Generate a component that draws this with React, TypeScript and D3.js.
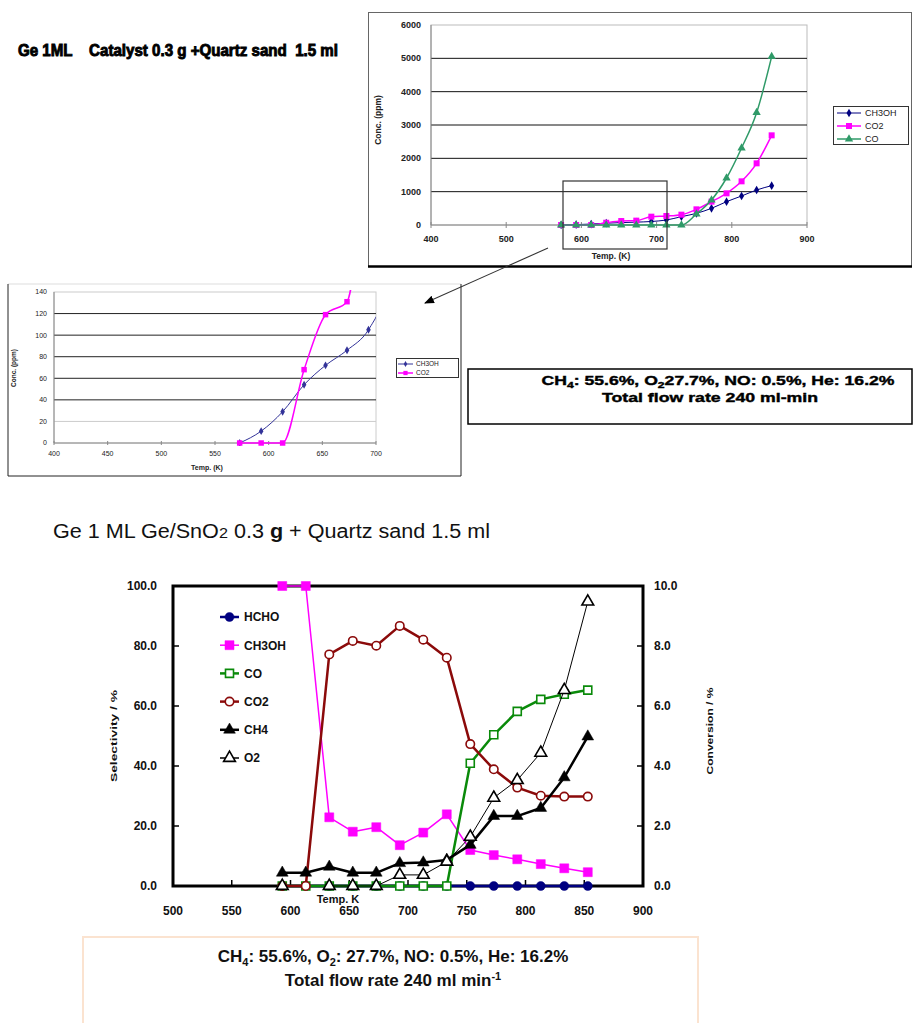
import React from 'react';
import * as d3 from 'd3';

const FONT = '"Liberation Sans", Arial, Helvetica, sans-serif';

// upper overview chart (ppm)
const topTemps = [573, 593, 613, 633, 653, 673, 693, 713, 733, 753, 773, 793, 813, 833, 853];
const topCH3OH = [0, 11, 29, 54, 72, 86, 105, 150, 250, 350, 500, 700, 870, 1050, 1180];
const topCO2 = [0, 0, 0, 68, 119, 131, 250, 270, 310, 470, 700, 950, 1310, 1850, 2690];
const topCO = [0, 0, 0, 0, 0, 0, 0, 0, 0, 330, 750, 1410, 2310, 3370, 5050];
const topXTicks = [400, 500, 600, 700, 800, 900];
const topYTicks = [0, 1000, 2000, 3000, 4000, 5000, 6000];

// zoomed inset
const insetXTicks = [400, 450, 500, 550, 600, 650, 700];
const insetYTicks = [0, 20, 40, 60, 80, 100, 120, 140];

// lower chart: selectivity (left) and conversion (right)
const temps = [593, 613, 633, 653, 673, 693, 713, 733, 753, 773, 793, 813, 833, 853];
const hcho = [0, 0, 0, 0, 0, 0, 0, 0, 0, 0, 0, 0, 0, 0];
const ch3oh = [100, 100, 22.9, 18.1, 19.6, 13.6, 17.8, 23.9, 12.0, 10.3, 8.9, 7.3, 5.9, 4.6];
const co = [0, 0, 0, 0, 0, 0, 0, 0, 40.9, 50.4, 58.2, 62.2, 63.9, 65.3];
const co2 = [0, 0, 77.2, 81.7, 80.1, 86.7, 82.1, 76.1, 47.3, 38.9, 32.8, 30.1, 29.8, 29.8];
const ch4 = [0.44, 0.44, 0.64, 0.44, 0.44, 0.76, 0.78, 0.87, 1.37, 2.33, 2.33, 2.6, 3.62, 4.98];
const o2 = [0, null, 0, 0, 0, 0.37, 0.37, 0.81, 1.64, 2.94, 3.53, 4.44, 6.53, 9.48];
const bottomXTicks = [500, 550, 600, 650, 700, 750, 800, 850, 900];
const leftTicks = [0, 20, 40, 60, 80, 100];
const rightTicks = [0, 2, 4, 6, 8, 10];

type Pt = [number, number | null];
const pair = (xs: number[], ys: (number | null)[]): Pt[] => xs.map((x, i) => [x, ys[i]]);

function Marker({ type, size, x, y, fill, stroke, sw = 1 }: any) {
  const d = d3.symbol().type(type).size(size)() as string;
  return <path d={d} transform={`translate(${x},${y})`} fill={fill} stroke={stroke} strokeWidth={sw} />;
}

function TopChart() {
  const x = d3.scaleLinear().domain([400, 900]).range([431, 807]);
  const y = d3.scaleLinear().domain([0, 6000]).range([225, 25]);
  const line = d3.line<Pt>().x(d => x(d[0])).y(d => y(d[1] as number)).curve(d3.curveMonotoneX);
  const series = [
    { name: 'CH3OH', vals: topCH3OH, color: '#000080', w: 1, type: d3.symbolDiamond, size: 22 },
    { name: 'CO2', vals: topCO2, color: '#ff00ff', w: 1.5, type: d3.symbolSquare, size: 36 },
    { name: 'CO', vals: topCO, color: '#2f9a68', w: 1.5, type: d3.symbolTriangle, size: 30 },
  ];
  return (
    <g fontFamily={FONT}>
      <rect x={368.5} y={12.5} width={543} height={254} fill="#fff" stroke="#666" strokeWidth={1} />
      <line x1={368} x2={912} y1={266.5} y2={266.5} stroke="#000" strokeWidth={2.5} />
      <rect x={431} y={25} width={376} height={200} fill="none" stroke="#bbb" />
      {topYTicks.filter(t => t > 0 && t < 6000).map(t => (
        <line key={t} x1={431} x2={807} y1={y(t)} y2={y(t)} stroke="#111" strokeWidth={1} />
      ))}
      <line x1={431} x2={431} y1={25} y2={225} stroke="#888" />
      <line x1={431} x2={807} y1={225} y2={225} stroke="#888" />
      {topXTicks.map(t => (
        <g key={t}>
          <line x1={x(t)} x2={x(t)} y1={222} y2={228} stroke="#888" />
          <text x={x(t)} y={242} textAnchor="middle" fontSize={9} fontWeight="bold" fill="#222">{t}</text>
        </g>
      ))}
      {topYTicks.map(t => (
        <text key={t} x={421} y={y(t)} dy="0.35em" textAnchor="end" fontSize={9} fontWeight="bold" fill="#222">{t}</text>
      ))}
      <text transform="translate(381,120) rotate(-90)" textAnchor="middle" fontSize={8.5} fontWeight="bold" fill="#222">Conc. (ppm)</text>
      <text x={611} y={259} textAnchor="middle" fontSize={8.5} fontWeight="bold" fill="#222">Temp. (K)</text>
      {series.map(s => (
        <g key={s.name}>
          <path d={line(pair(topTemps, s.vals)) as string} fill="none" stroke={s.color} strokeWidth={s.w} />
          {topTemps.map((t, i) => (
            <Marker key={t} type={s.type} size={s.size} x={x(t)} y={y(s.vals[i])} fill={s.color} stroke="none" />
          ))}
        </g>
      ))}
      <rect x={833.5} y={106.5} width={75} height={38} fill="#fff" stroke="#333" />
      {series.map((s, i) => (
        <g key={s.name}>
          <line x1={837} x2={861} y1={113 + i * 13} y2={113 + i * 13} stroke={s.color} strokeWidth={s.w} />
          <Marker type={s.type} size={s.size} x={849} y={113 + i * 13} fill={s.color} stroke="none" />
          <text x={865} y={113 + i * 13} dy="0.35em" fontSize={9} fill="#222">{s.name}</text>
        </g>
      ))}
      <rect x={563} y={181} width={104} height={68} fill="none" stroke="#333" strokeWidth={1.2} />
    </g>
  );
}

function Inset() {
  const x = d3.scaleLinear().domain([400, 700]).range([54, 376]);
  const y = d3.scaleLinear().domain([0, 140]).range([443, 292]);
  const line = d3.line<Pt>().x(d => x(d[0])).y(d => y(d[1] as number)).curve(d3.curveMonotoneX);
  const series = [
    { name: 'CH3OH', vals: topCH3OH, color: '#333399', w: 1, type: d3.symbolDiamond, size: 18 },
    { name: 'CO2', vals: topCO2, color: '#ff00ff', w: 1.5, type: d3.symbolSquare, size: 30 },
  ];
  return (
    <g fontFamily={FONT}>
      <line x1={8} x2={461} y1={284} y2={284} stroke="#ddd" />
      <line x1={8} x2={8} y1={284} y2={476} stroke="#222" />
      <line x1={461} x2={461} y1={284} y2={476} stroke="#222" />
      <line x1={8} x2={461} y1={476} y2={476} stroke="#222" />
      <rect x={54} y={292} width={322} height={151} fill="none" stroke="#ccc" />
      {insetYTicks.filter(t => t > 0 && t < 140).map(t => (
        <line key={t} x1={54} x2={376} y1={y(t)} y2={y(t)} stroke={t === 20 ? '#ccc' : '#222'} />
      ))}
      <line x1={54} x2={54} y1={292} y2={443} stroke="#888" />
      <line x1={54} x2={376} y1={443} y2={443} stroke="#888" />
      {insetXTicks.map(t => (
        <g key={t}>
          <line x1={x(t)} x2={x(t)} y1={441} y2={445} stroke="#888" />
          <text x={x(t)} y={456} textAnchor="middle" fontSize={7} fill="#222">{t}</text>
        </g>
      ))}
      {insetYTicks.map(t => (
        <text key={t} x={47} y={y(t)} dy="0.35em" textAnchor="end" fontSize={7} fill="#222">{t}</text>
      ))}
      <text transform="translate(16,368) rotate(-90)" textAnchor="middle" fontSize={6.5} fontWeight="bold" fill="#222">Conc. (ppm)</text>
      <text x={207} y={470} textAnchor="middle" fontSize={7} fontWeight="bold" fill="#222">Temp. (K)</text>
      <clipPath id="insetClip"><rect x={54} y={290} width={322} height={156} /></clipPath>
      <g clipPath="url(#insetClip)">
        {series.map(s => (
          <g key={s.name}>
            <path d={line(pair(topTemps, s.vals)) as string} fill="none" stroke={s.color} strokeWidth={s.w} />
            {topTemps.map((t, i) => (
              <Marker key={t} type={s.type} size={s.size} x={x(t)} y={y(s.vals[i])} fill={s.color} stroke="none" />
            ))}
          </g>
        ))}
      </g>
      <rect x={396.5} y={358.5} width={62} height={19} fill="#fff" stroke="#333" />
      {series.map((s, i) => (
        <g key={s.name}>
          <line x1={398} x2={413} y1={364 + i * 9} y2={364 + i * 9} stroke={s.color} strokeWidth={s.w} />
          <Marker type={s.type} size={s.size * 0.6} x={405.5} y={364 + i * 9} fill={s.color} stroke="none" />
          <text x={416} y={364 + i * 9} dy="0.35em" fontSize={6.5} fill="#222">{s.name}</text>
        </g>
      ))}
    </g>
  );
}

function BottomChart() {
  const x = d3.scaleLinear().domain([500, 900]).range([173, 643]);
  const yL = d3.scaleLinear().domain([0, 100]).range([886, 586]);
  const yR = d3.scaleLinear().domain([0, 10]).range([886, 586]);
  const series = [
    { name: 'HCHO', vals: hcho, y: yL, color: '#000080', w: 2.5, type: d3.symbolCircle, size: 64, open: false },
    { name: 'CH3OH', vals: ch3oh, y: yL, color: '#ff00ff', w: 1.5, type: d3.symbolSquare, size: 81, open: false },
    { name: 'CO', vals: co, y: yL, color: '#0a8a0a', w: 2.5, type: d3.symbolSquare, size: 64, open: true },
    { name: 'CO2', vals: co2, y: yL, color: '#8b0a0a', w: 2.5, type: d3.symbolCircle, size: 56, open: true },
    { name: 'CH4', vals: ch4, y: yR, color: '#000', w: 2.5, type: d3.symbolTriangle, size: 60, open: false },
    { name: 'O2', vals: o2, y: yR, color: '#000', w: 1, type: d3.symbolTriangle, size: 60, open: true },
  ];
  return (
    <g fontFamily={FONT}>
      <rect x={173} y={586} width={470} height={300} fill="#fff" stroke="#000" strokeWidth={3} />
      {leftTicks.map(t => (
        <g key={t}>
          <line x1={173} x2={179} y1={yL(t)} y2={yL(t)} stroke="#000" strokeWidth={1.5} />
          <text x={157} y={yL(t)} dy="0.35em" textAnchor="end" fontSize={12} fontWeight="bold" fill="#111">{d3.format('.1f')(t)}</text>
        </g>
      ))}
      {rightTicks.map(t => (
        <g key={t}>
          <line x1={637} x2={643} y1={yR(t)} y2={yR(t)} stroke="#000" strokeWidth={1.5} />
          <text x={654} y={yR(t)} dy="0.35em" fontSize={12} fontWeight="bold" fill="#111">{d3.format('.1f')(t)}</text>
        </g>
      ))}
      {bottomXTicks.map(t => (
        <g key={t}>
          <line x1={x(t)} x2={x(t)} y1={880} y2={886} stroke="#000" strokeWidth={1.5} />
          <text x={x(t)} y={915} textAnchor="middle" fontSize={12} fontWeight="bold" fill="#111">{t}</text>
        </g>
      ))}
      <text x={338} y={903} textAnchor="middle" fontSize={11} fontWeight="bold" fill="#111">Temp. K</text>
      <text transform="translate(117,736) rotate(-90)" textAnchor="middle" fontSize={9} fontWeight="bold" fill="#111"
        textLength={92} lengthAdjust="spacingAndGlyphs">Selectivity / %</text>
      <text transform="translate(713,731) rotate(-90)" textAnchor="middle" fontSize={9} fontWeight="bold" fill="#111"
        textLength={87} lengthAdjust="spacingAndGlyphs">Conversion / %</text>
      {series.map(s => {
        const line = d3.line<Pt>().defined(d => d[1] != null).x(d => x(d[0])).y(d => s.y(d[1] as number));
        return (
          <g key={s.name}>
            <path d={line(pair(temps, s.vals)) as string} fill="none" stroke={s.color} strokeWidth={s.w} strokeLinejoin="round" />
            {temps.map((t, i) => s.vals[i] == null ? null : (
              <Marker key={t} type={s.type} size={s.size} x={x(t)} y={s.y(s.vals[i] as number)}
                fill={s.open ? '#fff' : s.color} stroke={s.color} sw={s.open ? 1.6 : 0.5} />
            ))}
          </g>
        );
      })}
      {series.map((s, i) => {
        const ly = 617 + i * 28.2;
        return (
          <g key={s.name}>
            <line x1={220} x2={239} y1={ly} y2={ly} stroke={s.color} strokeWidth={s.w < 2 ? 1.5 : 2.5} />
            <Marker type={s.type} size={s.size} x={229.5} y={ly} fill={s.open ? '#fff' : s.color} stroke={s.color} sw={s.open ? 1.6 : 0.5} />
            <text x={244} y={ly} dy="0.36em" fontSize={12} fontWeight="bold" fill="#111">{s.name}</text>
          </g>
        );
      })}
    </g>
  );
}

export default function App() {
  return (
    <svg width={914} height={1023} style={{ position: 'absolute', left: 0, top: 0, background: '#fff' }}>
      <defs>
        <marker id="arrowHead" viewBox="0 0 10 10" refX={9} refY={5} markerWidth={9} markerHeight={9} orient="auto">
          <path d="M0,1 L10,5 L0,9 Z" fill="#000" />
        </marker>
      </defs>
      <rect width={914} height={1023} fill="#fff" />
      <text x={18} y={56} fontFamily={FONT} fontSize={16} fontWeight="bold" fill="#000" stroke="#000" strokeWidth={0.9}
        xmlSpace="preserve" style={{ whiteSpace: 'pre' }}
        textLength={320} lengthAdjust="spacingAndGlyphs">Ge 1ML    Catalyst 0.3 g +Quartz sand  1.5 ml</text>
      <TopChart />
      <Inset />
      <line x1={548} y1={248} x2={425} y2={303} stroke="#333" strokeWidth={1.1} markerEnd="url(#arrowHead)" />
      <rect x={468} y={369} width={444} height={55} fill="none" stroke="#000" strokeWidth={1.5} />
      <g fontFamily={FONT} fontWeight="bold" fill="#000" stroke="#000" strokeWidth={0.4} textAnchor="middle">
        <text x={718} y={385} fontSize={13} textLength={353} lengthAdjust="spacingAndGlyphs">
          CH<tspan dy={3} fontSize={9}>4</tspan><tspan dy={-3}>: 55.6%, O</tspan><tspan dy={3} fontSize={9}>2</tspan><tspan dy={-3}>27.7%, NO: 0.5%, He: 16.2%</tspan>
        </text>
        <text x={710} y={402} fontSize={13} textLength={216} lengthAdjust="spacingAndGlyphs">Total flow rate 240 ml-min</text>
      </g>
      <text x={53} y={538} fontFamily={FONT} fontSize={20} fill="#111" textLength={437} lengthAdjust="spacingAndGlyphs">
        Ge 1 ML Ge/SnO<tspan fontSize={15}>2</tspan> 0.3 <tspan fontWeight="bold">g</tspan> + Quartz sand 1.5 ml
      </text>
      <BottomChart />
      <rect x={83} y={937} width={615} height={100} fill="none" stroke="#fbe3d0" strokeWidth={2} />
      <g fontFamily={FONT} fontWeight="bold" fill="#111" textAnchor="middle">
        <text x={393} y={962} fontSize={17}>
          CH<tspan dy={4} fontSize={11}>4</tspan><tspan dy={-4}>: 55.6%, O</tspan><tspan dy={4} fontSize={11}>2</tspan><tspan dy={-4}>: 27.7%, NO: 0.5%, He: 16.2%</tspan>
        </text>
        <text x={393} y={986} fontSize={17}>
          Total flow rate 240 ml min<tspan dy={-6} fontSize={11}>-1</tspan>
        </text>
      </g>
    </svg>
  );
}
